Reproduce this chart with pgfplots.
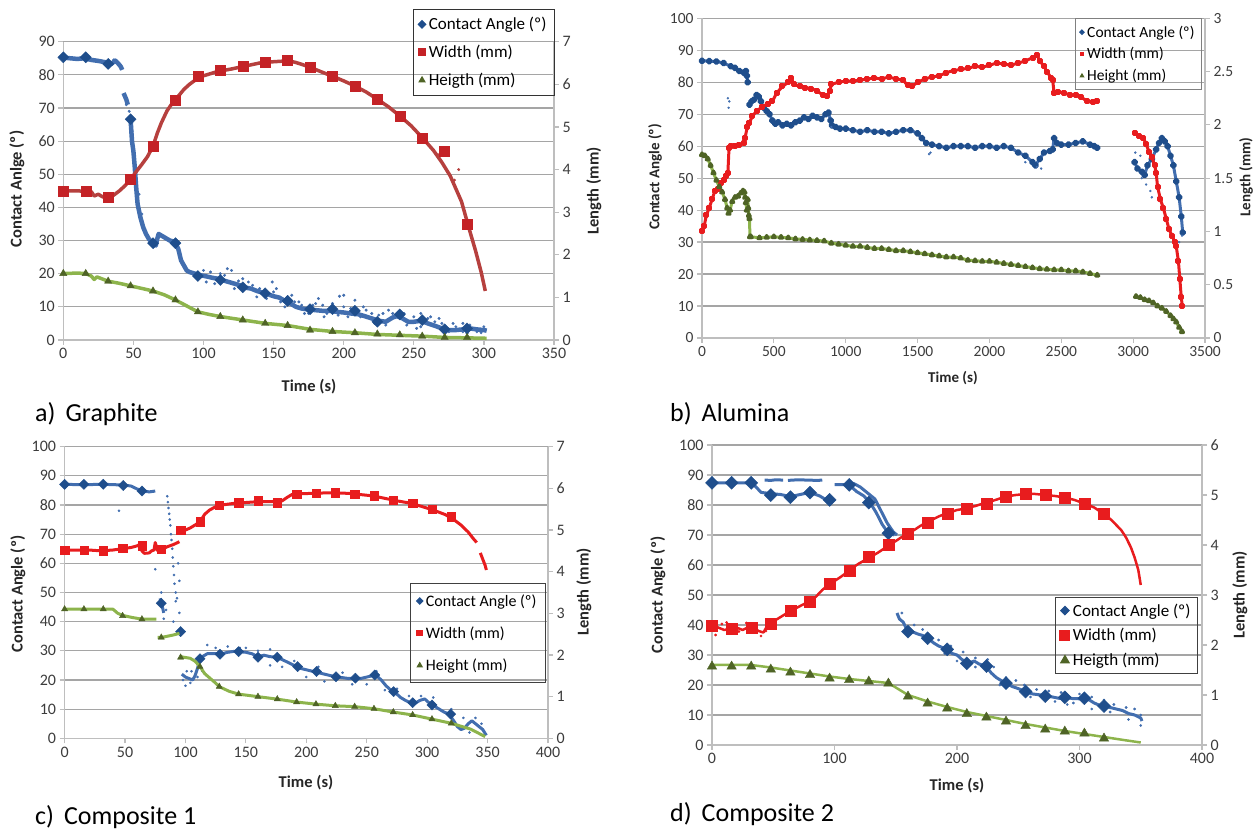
\documentclass[border=0pt]{standalone}
\usepackage{fontspec}
\setmainfont{Carlito}
\usepackage{pgfplots}
\pgfplotsset{compat=1.18}

\definecolor{gridc}{RGB}{165,165,165}
\definecolor{axc}{RGB}{190,190,190}
\definecolor{tickc}{RGB}{60,60,60}
\definecolor{cablue}{RGB}{31,78,140}
\definecolor{cabluel}{RGB}{66,110,175}
\definecolor{wred}{RGB}{196,34,38}
\definecolor{wredl}{RGB}{182,64,62}
\definecolor{wbred}{RGB}{232,28,30}
\definecolor{hgreen}{RGB}{141,180,76}
\definecolor{hgreend}{RGB}{79,100,38}

\pgfplotsset{
  panel/.style={
    scale only axis, anchor=south west, clip=false,
    axis line style={draw=axc, line width=1.2pt},
    tick style={draw=axc, line width=1.2pt},
    tick align=outside, major tick length=5pt,
    ticklabel style={font=\fontsize{16}{17}\selectfont, text=tickc},
    /pgf/number format/assume math mode=true,
    /pgf/number format/1000 sep={},
    scaled ticks=false,
    unbounded coords=jump,
    legend image code/.code={\draw[##1] plot coordinates {(0pt,0pt)};},
    legend cell align=left,
  },
  primary/.style={panel, axis x line*=bottom, axis y line*=left,
    ymajorgrids, major grid style={draw=gridc, line width=1.2pt}},
  secondary/.style={panel, axis x line=none, axis y line*=right},
  diam/.style={only marks, mark=square*, mark options={rotate=45, draw=cablue, fill=cablue, solid}, mark size=#1},
  sq/.style 2 args={only marks, mark=square*, mark options={draw=#2, fill=#2, solid}, mark size=#1},
  tri/.style={only marks, mark=triangle*, mark options={draw=hgreend, fill=hgreend, solid}, mark size=#1},
}

\begin{document}
\begin{tikzpicture}[x=1pt,y=1pt]
\path[use as bounding box] (0pt,0pt) rectangle (1256pt,830pt);

% ---------------- a) Graphite ----------------
\begin{axis}[primary, at={(63.3pt,490pt)}, width=490.7pt, height=298.3pt,
  xmin=0, xmax=350, xtick={0,50,...,350}, ymin=0, ymax=90, ytick={0,10,...,90}]
\addplot[draw=cabluel, line width=4.5pt, line join=round] coordinates {
 (0,85.2)(5,85)(10,84.8)(15,85)(20,84.5)(25,84.2)(30,83.8)(34,83.2)(37,84.3)(39,83.5)(41,82.5)(42,81.5)(42.5,nan)
 (43,74.5)(44,73.5)(45,72.5)(46,71)(47,nan)
 (48,66.5)(49,60)(50,57)(51,52)(52,46)(53,41)(55,37)(57,34)(59,32)(61,30.5)(63,29.5)(65,29)(66,28.5)(67,30.5)(68,32)(70,31.5)(72,31)(74,30.5)(76,30)(78,29.8)(80,29)(82,27.5)(84,24)(86,22.5)(88,21)(90,20.5)(94,20)(98,19.5)(102,19.2)(106,18.8)(110,18.5)(114,18)(118,17.5)(122,17)(126,16.5)(130,15.8)(134,15.5)(138,14.8)(142,14.3)(146,13.8)(150,13.2)(154,12.8)(158,11.8)(162,11)(166,10)(170,9.5)(175,9.2)(180,9)(185,8.8)(190,8.8)(195,8.5)(200,8.3)(205,8)(210,7.8)(215,7.2)(220,6.5)(225,5.8)(230,5.5)(235,6.8)(238,7.2)(242,6.5)(246,5.5)(250,5.5)(255,5.8)(260,5)(265,4.3)(270,3.5)(275,3)(280,3)(285,3.2)(290,3.5)(295,3.2)(300,3)(302,2.8)};
\addplot[only marks, mark=*, mark size=1.3pt, cabluel] coordinates {
 (100,21)(105,20.5)(108,17)(115,19.5)(120,21)(125,17.8)(128,18.5)(135,16.5)(140,15.5)(145,12.5)(150,14.5)(155,11.5)(160,13)(165,11.5)(170,10.5)(175,8)(180,11)(185,10.5)(188,8)(192,11)(196,7.5)(200,10)(205,9.5)(208,12)(212,7)(216,9)(220,8)(225,7.5)(230,4.5)(235,8)(240,8.5)(245,4.5)(250,7)(255,4)(260,6.5)(265,5.5)(270,5)(275,2.5)(280,4)(285,2.5)(290,4.5)(295,2.5)(300,4)
 (117,21.5)(149,17.5)(168,11.5)(182,12.5)(197,13.2)(200,13.5)(255,8)(232,9)(285,5)(45,71)(47,69)(49,63)(52,48)(54,44)(56,38)(36,84.5)(38,84)
 (102,17.5)(112,20)(122,15.5)(132,17.5)(138,13)(152,15.5)(158,10)(163,13.5)(172,8)(178,10.5)(186,7)(203,7)(214,10)(222,5)(228,8)(243,8)(252,3.5)(262,7)(268,6.5)(278,5)(288,2)(298,2.2)};
\addplot[diam=3.9pt] coordinates {
 (0,85.3)(16,85.3)(32,83.3)(48,66.6)(64,29.2)(80,29.2)(96,19.3)(112,18.1)(128,15.9)(144,14.1)(160,11.8)(176,9.3)(192,9.3)(208,8.8)(224,5.5)(240,7.7)(256,6)(272,3.2)(288,3.5)};
\end{axis}
\begin{axis}[secondary, at={(63.3pt,490pt)}, width=490.7pt, height=298.3pt,
  xmin=0, xmax=350, ymin=0, ymax=7, ytick={0,1,...,7},
  legend style={at={(1.002,1.11)}, anchor=north east, draw=black!80, line width=1pt, fill=none,
    font=\fontsize{17}{18}\selectfont, row sep=10pt, inner xsep=5pt, inner ysep=6pt,
    nodes={inner xsep=3pt}}]
\addlegendimage{diam=2.7pt}\addlegendentry{Contact Angle (º)}
\addlegendimage{sq={3.6pt}{wred}}\addlegendentry{Width (mm)}
\addlegendimage{tri=3.4pt}\addlegendentry{Heigth (mm)}
\addplot[forget plot, draw=wredl, line width=3.5pt, line join=round] coordinates {
 (0,3.5)(10,3.5)(20,3.48)(22,3.38)(25,3.42)(28,3.36)(32,3.33)(36,3.4)(40,3.5)(44,3.62)(48,3.77)(52,3.95)(56,4.12)(60,4.3)(64,4.55)(67,4.85)(70,5.1)(74,5.38)(78,5.57)(82,5.72)(86,5.88)(90,6.0)(95,6.12)(100,6.2)(110,6.3)(120,6.36)(130,6.43)(140,6.5)(150,6.53)(160,6.55)(165,6.52)(170,6.47)(176,6.4)(185,6.28)(192,6.19)(200,6.08)(208,5.96)(216,5.82)(224,5.65)(232,5.47)(240,5.26)(248,5.03)(256,4.75)(264,4.45)(270,4.17)(276,3.85)(280,3.55)(284,3.25)(287,2.9)(290,2.55)(294,2.1)(298,1.6)(301,1.15)};
\addplot[forget plot, only marks, mark=*, mark size=1.3pt, wredl] coordinates {(282,4.0)(279,3.75)(268,4.35)};
\addplot[forget plot, sq={5pt}{wred}] coordinates {
 (0,3.5)(16,3.5)(32,3.35)(48,3.77)(64,4.55)(80,5.63)(96,6.18)(112,6.32)(128,6.43)(144,6.51)(160,6.57)(176,6.4)(192,6.19)(208,5.96)(224,5.65)(240,5.24)(256,4.73)(272,4.42)(288,2.72)};
\addplot[forget plot, draw=hgreen, line width=3.5pt, line join=round] coordinates {
 (0,1.56)(10,1.57)(16,1.56)(20,1.5)(22,1.42)(24,1.48)(32,1.38)(40,1.33)(48,1.27)(56,1.21)(64,1.15)(72,1.06)(80,0.94)(88,0.8)(96,0.66)(104,0.6)(112,0.55)(128,0.47)(144,0.39)(160,0.34)(176,0.25)(192,0.2)(208,0.17)(224,0.13)(240,0.11)(256,0.09)(272,0.06)(288,0.05)(302,0.04)};
\addplot[forget plot, tri=4.2pt] coordinates {
 (0,1.56)(16,1.56)(32,1.38)(48,1.27)(64,1.15)(80,0.94)(96,0.66)(112,0.55)(128,0.47)(144,0.39)(160,0.34)(176,0.23)(192,0.2)(208,0.17)(224,0.14)(240,0.12)(256,0.09)(272,0.06)(288,0.06)};
\end{axis}

% ---------------- b) Alumina ----------------
\begin{axis}[primary, at={(702pt,492pt)}, width=503pt, height=319.7pt,
  ticklabel style={font=\fontsize{15.5}{16}\selectfont},
  xmin=0, xmax=3500, xtick={0,500,...,3500}, ymin=0, ymax=100, ytick={0,10,...,100}]
\addplot[draw=cabluel, line width=3pt, line join=round, mark=square*, mark size=1.5pt,
  mark options={rotate=45, draw=cablue, fill=cablue}] coordinates {
 (0,86.7)(50,86.6)(100,86.5)(150,86)(200,85)(230,84.5)(260,83.5)(290,83)(305,83.5)(312,82)(318,80)(325,nan)
 (330,73)(345,74)(360,74.5)(380,76)(395,75.5)(410,74)(430,72)(450,71)(470,70)(490,68)(510,67)(530,67.5)(560,66.5)(590,67)(620,66.5)(650,67.5)(680,68)(710,69)(740,68.5)(770,69.5)(800,69)(830,68.5)(860,70)(880,70.5)(895,68)(905,66.5)(930,66)(960,65.5)(1000,65.5)(1050,65)(1100,64.5)(1150,65)(1200,64.5)(1250,64.5)(1300,64)(1350,64.5)(1400,65)(1450,65)(1500,64)(1530,62.5)(1560,61)(1600,60.5)(1650,60)(1700,59.5)(1750,60)(1800,60)(1850,60)(1900,59.5)(1950,60)(2000,60)(2050,59.5)(2100,60)(2150,59.5)(2200,58)(2250,57)(2300,55)(2320,54)(2350,56)(2380,58)(2420,58.5)(2440,59)(2450,62.5)(2470,61)(2500,60.5)(2550,60.5)(2600,61)(2650,61.5)(2700,60.5)(2730,60)(2750,59.5)(2900,nan)
 (3010,55)(3030,53)(3060,52)(3080,51)(3100,54)(3130,56)(3160,59)(3180,61)(3200,62.5)(3220,61.5)(3240,60)(3260,57)(3280,54)(3300,49)(3320,44)(3335,38)(3345,33)};
\addplot[only marks, mark=*, mark size=1pt, cabluel] coordinates {
 (180,75)(185,72)(190,74)(3015,58)(3050,57)(3060,50)(3090,48)(3120,46)(3130,44)(3320,30)(3340,32)(900,66)(1590,58)(2360,53)(2250,55)(1580,57.5)(2330,53.5)};
\end{axis}
\begin{axis}[secondary, at={(702pt,492pt)}, width=503pt, height=319.7pt,
  ticklabel style={font=\fontsize{15.5}{16}\selectfont},
  xmin=0, xmax=3500, ymin=0, ymax=3, ytick={0,0.5,...,3},
  yticklabel style={/pgf/number format/fixed},
  legend style={at={(0.994,1.0)}, anchor=north east, draw=gray, line width=1pt, fill=none,
    font=\fontsize{15.5}{16}\selectfont, row sep=5pt, inner xsep=4pt, inner ysep=5pt,
    nodes={inner xsep=3pt}}]
\addlegendimage{diam=1.6pt}\addlegendentry{Contact Angle (º)}
\addlegendimage{sq={1.8pt}{wbred}}\addlegendentry{Width (mm)}
\addlegendimage{tri=2pt}\addlegendentry{Height (mm)}
\addplot[forget plot, draw=wbred, line width=3pt, line join=round, mark=square*, mark size=1.5pt,
  mark options={draw=wbred, fill=wbred}] coordinates {
 (0,1.0)(15,1.05)(30,1.15)(50,1.22)(70,1.3)(90,1.38)(110,1.4)(130,1.45)(150,1.48)(170,1.52)(180,1.55)(188,1.78)(200,1.8)(230,1.8)(260,1.81)(290,1.83)(300,1.88)(315,1.98)(330,2.02)(350,2.08)(380,2.13)(420,2.17)(460,2.2)(490,2.22)(520,2.3)(560,2.36)(600,2.4)(620,2.44)(640,2.38)(680,2.36)(720,2.35)(760,2.34)(800,2.32)(840,2.28)(870,2.27)(890,2.32)(900,2.38)(950,2.4)(1000,2.41)(1050,2.41)(1100,2.42)(1150,2.43)(1200,2.44)(1250,2.43)(1300,2.45)(1350,2.43)(1400,2.42)(1430,2.37)(1460,2.36)(1500,2.4)(1550,2.43)(1600,2.45)(1650,2.46)(1700,2.49)(1750,2.51)(1800,2.52)(1850,2.53)(1900,2.55)(1950,2.54)(2000,2.56)(2050,2.58)(2100,2.57)(2150,2.56)(2200,2.58)(2250,2.6)(2300,2.63)(2330,2.66)(2350,2.6)(2380,2.55)(2400,2.5)(2430,2.44)(2440,2.42)(2450,2.3)(2480,2.31)(2520,2.3)(2560,2.28)(2600,2.28)(2640,2.26)(2680,2.22)(2720,2.21)(2750,2.22)(2900,nan)
 (3010,1.92)(3040,1.9)(3070,1.88)(3090,1.82)(3110,1.75)(3130,1.7)(3150,1.62)(3160,1.55)(3170,1.42)(3190,1.3)(3210,1.22)(3230,1.12)(3250,1.02)(3270,0.96)(3290,0.9)(3300,0.86)(3315,0.72)(3325,0.55)(3335,0.38)(3342,0.3)};
\addplot[forget plot, draw=hgreen, line width=3pt, line join=round, mark=triangle*, mark size=1.8pt,
  mark options={draw=hgreend, fill=hgreend}] coordinates {
 (0,1.72)(20,1.71)(40,1.68)(60,1.62)(80,1.55)(100,1.48)(120,1.42)(140,1.37)(160,1.3)(175,1.22)(185,1.17)(195,1.2)(210,1.28)(230,1.32)(250,1.33)(270,1.36)(285,1.38)(295,1.37)(300,1.32)(302,nan)
 (305,1.27)(312,1.2)(318,1.3)(322,1.22)(326,1.15)(330,1.12)(334,0.95)(337,nan)
 (340,0.95)(400,0.94)(450,0.945)(500,0.95)(550,0.945)(600,0.94)(650,0.93)(700,0.925)(750,0.92)(800,0.915)(850,0.91)(900,0.89)(950,0.88)(1000,0.87)(1050,0.86)(1100,0.86)(1150,0.85)(1200,0.84)(1250,0.84)(1300,0.83)(1350,0.82)(1400,0.82)(1450,0.81)(1500,0.8)(1550,0.79)(1600,0.78)(1650,0.77)(1700,0.76)(1750,0.76)(1800,0.75)(1850,0.73)(1900,0.725)(1950,0.72)(2000,0.72)(2050,0.71)(2100,0.7)(2150,0.69)(2200,0.68)(2250,0.67)(2300,0.66)(2350,0.65)(2400,0.645)(2450,0.64)(2500,0.64)(2550,0.63)(2600,0.63)(2650,0.62)(2700,0.605)(2750,0.59)(2900,nan)
 (3020,0.39)(3050,0.38)(3080,0.36)(3110,0.35)(3140,0.33)(3170,0.3)(3200,0.28)(3230,0.25)(3260,0.21)(3280,0.18)(3300,0.15)(3320,0.1)(3340,0.06)};
\end{axis}

% ---------------- c) Composite 1 ----------------
\begin{axis}[primary, at={(64.6pt,91.7pt)}, width=483.4pt, height=291.6pt,
  xmin=0, xmax=400, xtick={0,50,...,400}, ymin=0, ymax=100, ytick={0,10,...,100}]
\addplot[draw=cabluel, line width=3pt, line join=round] coordinates {
 (0,87.1)(10,87)(20,87)(30,87.1)(40,87)(50,86.8)(55,86.5)(60,85.5)(65,84.8)(70,84.5)(75,84.8)(78,nan)
 (79,48)(80,46.3)(81,45)(82,43)(83,nan)
 (95,36.6)(96,36)(96.5,nan)
 (97,22)(100,21)(103,20.5)(106,20)(108,21.5)(110,24)(112,27.3)(114,28)(118,29)(122,29)(126,29)(130,29)(135,29.5)(140,29.8)(145,29.7)(150,29.5)(155,29)(160,28)(165,28.5)(170,28)(175,27.8)(180,27)(185,26)(190,25)(195,24)(200,23.5)(205,23)(210,22.5)(215,22)(220,21.5)(225,21)(230,20.8)(235,20.5)(240,20.6)(245,20.5)(250,21)(255,21.5)(258,21.5)(262,20)(266,18)(270,16.5)(274,15.5)(278,14)(282,13)(286,12.2)(290,12)(294,13)(298,13.5)(302,12)(306,11)(310,10)(314,9)(318,8.3)(322,6)(325,4)(328,3)(331,3.5)(334,5)(337,6)(340,5)(343,4)(346,3)(349,1)};
\addplot[only marks, mark=*, mark size=1.1pt, cabluel] coordinates {
 (85,83)(85.5,81)(86,79)(86.5,77)(87,75)(87.5,73)(88,70)(88.5,68)(89,65)(89.5,62)(90,59)(90.5,56)(91,53)(92,50)(93,48)
 (45,78)(75,58)(95,54)(92,47)(90,40)(95,43)(100,18)(105,23)(110,21)(118,32)(114,23)(125,31)(135,31.5)(145,31)(150,31)(160,30)(170,30.5)(170,25)(180,24.5)(190,26.5)(200,21)(210,24.5)(215,19.5)(230,22.5)(238,18.5)(250,18.5)(258,23)(265,16.5)(275,17)(285,14.5)(295,14.5)(305,14)(320,10)(330,7)(335,2)(340,7)(345,5)(94,60)(80,50)(82,41)(84,44)(98,20)(101,23)(104,19)};
\addplot[diam=3.6pt] coordinates {
 (0,87.1)(16,87.1)(32,87.1)(48.5,86.7)(64,84.8)(80,46.3)(96,36.6)(112,27.3)(128.6,28.8)(144,29.7)(160,27.8)(176,27.8)(192.8,24.6)(208.5,22.9)(224.6,21.1)(240.6,20.6)(256.6,21.7)(272.3,16)(288,12.2)(304,11.4)(319.5,8.3)};
\end{axis}
\begin{axis}[secondary, at={(64.6pt,91.7pt)}, width=483.4pt, height=291.6pt,
  xmin=0, xmax=400, ymin=0, ymax=7, ytick={0,1,...,7},
  legend style={at={(0.996,0.533)}, anchor=north east, draw=black!75, line width=1pt, fill=none,
    font=\fontsize{16}{17}\selectfont, row sep=15pt, inner xsep=6pt, inner ysep=9pt,
    nodes={inner xsep=3pt}}]
\addlegendimage{diam=2.2pt}\addlegendentry{Contact Angle (º)}
\addlegendimage{sq={2.8pt}{wbred}}\addlegendentry{Width (mm)}
\addlegendimage{tri=2.8pt}\addlegendentry{Height (mm)}
\addplot[forget plot, draw=wbred, line width=3pt, line join=round] coordinates {
 (0,4.52)(10,4.52)(20,4.52)(30,4.5)(40,4.52)(45,4.54)(50,4.56)(55,4.58)(60,4.62)(62,4.65)(64,4.5)(66,4.44)(70,4.45)(72,4.5)(74,4.52)(75,4.7)(77,4.5)(80,4.52)(85,4.6)(90,4.65)(95,4.72)(95.5,nan)
 (96,4.98)(100,5.0)(104,5.05)(108,5.12)(112,5.2)(116,5.38)(120,5.48)(125,5.56)(130,5.6)(140,5.64)(150,5.66)(160,5.68)(170,5.68)(180,5.7)(184,5.78)(188,5.85)(195,5.87)(205,5.88)(215,5.89)(225,5.89)(235,5.88)(245,5.85)(255,5.82)(265,5.76)(275,5.7)(285,5.65)(295,5.57)(305,5.48)(315,5.37)(322,5.25)(328,5.12)(334,4.95)(338,4.8)(341,4.7)(342.5,nan)
 (344,4.45)(346,4.3)(348,4.15)(349,4.04)};
\addplot[forget plot, sq={4.2pt}{wbred}] coordinates {
 (0,4.52)(16,4.52)(32,4.5)(48,4.56)(64,4.62)(80,4.54)(96,5.0)(112,5.2)(128,5.6)(144,5.66)(160,5.7)(176,5.66)(192,5.86)(208,5.88)(224,5.9)(240,5.86)(256,5.82)(272,5.72)(288,5.64)(304,5.5)(320,5.32)};
\addplot[forget plot, draw=hgreen, line width=3pt, line join=round] coordinates {
 (0,3.1)(40,3.1)(44,3.0)(48,2.95)(56,2.9)(64,2.86)(72,2.86)(76,2.86)(76.5,nan)
 (77,2.42)(80,2.42)(85,2.45)(90,2.48)(95,2.52)(95.5,nan)
 (96,1.96)(100,1.94)(104,1.92)(108,1.85)(112,1.72)(116,1.55)(120,1.45)(124,1.35)(128,1.24)(136,1.13)(144,1.06)(160,1.0)(176,0.94)(192,0.87)(208,0.82)(224,0.78)(240,0.76)(256,0.71)(272,0.63)(288,0.56)(304,0.46)(320,0.36)(336,0.22)(348,0.04)};
\addplot[forget plot, tri=3.6pt] coordinates {
 (0,3.1)(16,3.1)(32,3.1)(48,2.94)(64,2.86)(80,2.42)(96,1.94)(112,1.72)(128,1.24)(144,1.06)(160,1.0)(176,0.94)(192,0.87)(208,0.82)(224,0.78)(240,0.76)(256,0.71)(272,0.63)(288,0.56)(304,0.46)(320,0.36)};
\end{axis}

% ---------------- d) Composite 2 ----------------
\begin{axis}[primary, at={(712pt,85pt)}, width=490pt, height=300pt,
  xmin=0, xmax=400, xtick={0,100,...,400}, ymin=0, ymax=100, ytick={0,10,...,100}]
\addplot[draw=cabluel, line width=3pt, line join=round] coordinates {
 (0,87.4)(8,87.4)(16,87.4)(24,87.4)(32,87.4)(36,86)(40,84.2)(48,83.8)(56,83.5)(64,82.8)(72,83.5)(80,84.2)(88,83)(94,81.5)(98,81.8)(99,nan)
 (100,86.8)(106,86.8)(112,86.7)(118,84.5)(124,83)(129,80.8)(134,77.5)(139,73.5)(144,70.6)(149,70)(150,nan)
 (43,88.3)(48,88.2)(52,88.4)(58,88.3)(60,nan)(62,88.2)(70,88.4)(78,88.3)(86,88.2)(90,88.3)(91,nan)
 (115,87.3)(121,86)(127,84)(133,82)(138,78)(143,74)(148,71)(151,70)(151.5,nan)
 (151,44)(153,42)(156,41)(159,38.5)(162,38)(165,37.5)(168,37)(172,36.5)(175,35.6)(178,35)(181,34)(185,33)(188,32.5)(192,31.9)(196,30.5)(200,30)(204,28.5)(209,27.2)(214,28)(218,27)(222,26.5)(225,25.5)(228,24)(232,22.5)(236,21.5)(240,20.6)(245,19.5)(250,18.8)(256,17.8)(262,17)(268,16.7)(272,16.3)(278,16)(284,15.5)(288,15.9)(294,15.5)(300,15.4)(304,15.6)(308,15)(312,14)(316,13.3)(320,13)(325,12.5)(330,12)(335,11.5)(340,10.5)(345,10)(350,9)(351,8)};
\addplot[only marks, mark=*, mark size=1.2pt, cabluel] coordinates {
 (155,44)(165,40)(172,38.5)(185,35)(195,33)(205,31)(215,29)(225,28.5)(230,26)(240,22.5)(248,21.5)(255,20)(265,18.5)(275,18)(285,17.5)(295,14)(300,17)(310,16)(320,15)(328,13.5)(338,12.5)(345,12)(350,10)(260,16)(280,14.5)(290,13.5)(310,12)(325,11)(340,8.5)(350,6.5)(190,30.5)(200,28)(215,26)(235,20)};
\addplot[diam=4.6pt] coordinates {
 (0,87.4)(16,87.4)(32,87.4)(48,83.3)(64,82.6)(80,84.1)(96,81.7)(112,86.7)(128,80.8)(144,70.6)(160,37.8)(176,35.6)(192,31.9)(208,27.2)(224,26.3)(240,20.6)(256,17.8)(272,16.3)(288,15.9)(304,15.6)(320,13.0)};
\end{axis}
\begin{axis}[secondary, at={(712pt,85pt)}, width=490pt, height=300pt,
  xmin=0, xmax=400, ymin=0, ymax=6, ytick={0,1,...,6},
  legend style={at={(0.992,0.493)}, anchor=north east, draw=black!75, line width=1pt, fill=none,
    font=\fontsize{17}{18}\selectfont, row sep=7pt, inner xsep=4pt, inner ysep=4pt,
    nodes={inner xsep=3pt}}]
\addlegendimage{diam=3pt}\addlegendentry{Contact Angle (º)}
\addlegendimage{sq={5pt}{wbred}}\addlegendentry{Width (mm)}
\addlegendimage{tri=5pt}\addlegendentry{Heigth (mm)}
\addplot[forget plot, draw=wbred, line width=2.5pt, line join=round] coordinates {
 (0,2.38)(5,2.35)(10,2.3)(15,2.33)(20,2.35)(25,2.3)(30,2.36)(35,2.33)(38,2.28)(42,2.25)(45,2.38)(48,2.42)(52,2.5)(56,2.56)(60,2.62)(64,2.69)(68,2.73)(72,2.78)(76,2.83)(80,2.87)(85,2.97)(90,3.1)(95,3.2)(100,3.28)(105,3.36)(110,3.45)(115,3.55)(120,3.63)(125,3.7)(130,3.77)(135,3.84)(140,3.92)(145,4.0)(150,4.08)(155,4.16)(160,4.23)(165,4.3)(170,4.38)(175,4.45)(180,4.51)(185,4.57)(190,4.62)(195,4.66)(200,4.7)(205,4.72)(210,4.75)(215,4.78)(220,4.82)(225,4.85)(230,4.89)(235,4.93)(240,4.97)(248,5.0)(256,5.02)(264,5.02)(272,5.0)(280,4.98)(288,4.95)(296,4.9)(304,4.83)(312,4.75)(320,4.62)(326,4.5)(330,4.4)(334,4.3)(338,4.15)(342,3.95)(345,3.75)(348,3.5)(350,3.2)};
\addplot[forget plot, only marks, mark=*, mark size=1.2pt, wbred] coordinates {
 (3,2.2)(12,2.45)(28,2.44)(40,2.18)(44,2.28)(50,2.4)(33,2.25)(8,2.42)(22,2.27)(36,2.42)};
\addplot[forget plot, sq={5.5pt}{wbred}] coordinates {
 (0,2.38)(16,2.33)(32,2.35)(48,2.42)(64,2.69)(80,2.87)(96,3.23)(112,3.48)(128,3.77)(144,4.0)(160,4.23)(176,4.45)(192,4.62)(208,4.73)(224,4.82)(240,4.97)(256,5.02)(272,5.0)(288,4.95)(304,4.83)(320,4.62)};
\addplot[forget plot, draw=hgreen, line width=2.5pt, line join=round] coordinates {
 (0,1.6)(16,1.6)(32,1.6)(48,1.55)(64,1.49)(80,1.43)(96,1.37)(112,1.32)(128,1.28)(144,1.24)(150,1.15)(160,1.0)(176,0.87)(192,0.76)(208,0.66)(224,0.58)(240,0.5)(256,0.42)(272,0.35)(288,0.28)(304,0.22)(320,0.16)(336,0.1)(350,0.05)};
\addplot[forget plot, tri=5.5pt] coordinates {
 (0,1.57)(16,1.57)(32,1.57)(48,1.51)(64,1.45)(80,1.4)(96,1.33)(112,1.3)(128,1.27)(144,1.23)(160,0.97)(176,0.83)(192,0.73)(208,0.62)(224,0.55)(240,0.47)(256,0.38)(272,0.31)(288,0.27)(304,0.23)(320,0.13)};
\end{axis}

% axis titles
\begin{scope}[every node/.style={font=\bfseries\fontsize{16.5}{18}\selectfont, text=black!85}]
\node[rotate=90] at (17pt,641pt) {Contact Anlge (º)};
\node[rotate=90] at (594pt,639pt) {Length (mm)};
\node at (309pt,443pt) {Time (s)};
\node[rotate=90] at (18pt,236pt) {Contact Angle (º)};
\node[rotate=90] at (584pt,238pt) {Length (mm)};
\node at (306pt,47pt) {Time (s)};
\node[rotate=90] at (658pt,235pt) {Contact Angle (º)};
\node[rotate=90] at (1240pt,235pt) {Length (mm)};
\node at (957pt,44pt) {Time (s)};
\end{scope}
\begin{scope}[every node/.style={font=\bfseries\fontsize{15}{16}\selectfont, text=black!85}]
\node[rotate=90] at (655pt,653pt) {Contact Angle (º)};
\node[rotate=90] at (1246pt,653pt) {Length (mm)};
\node at (953pt,452pt) {Time (s)};
\end{scope}

% panel captions
\begin{scope}[every node/.style={anchor=base west, inner sep=0pt, font=\fontsize{26}{28}\selectfont}]
\node at (35pt,408pt) {a)\hspace{10pt}Graphite};
\node at (670pt,408pt) {b)\hspace{10pt}Alumina};
\node at (35pt,5pt) {c)\hspace{10pt}Composite 1};
\node at (670pt,8pt) {d)\hspace{10pt}Composite 2};
\end{scope}
\end{tikzpicture}
\end{document}
